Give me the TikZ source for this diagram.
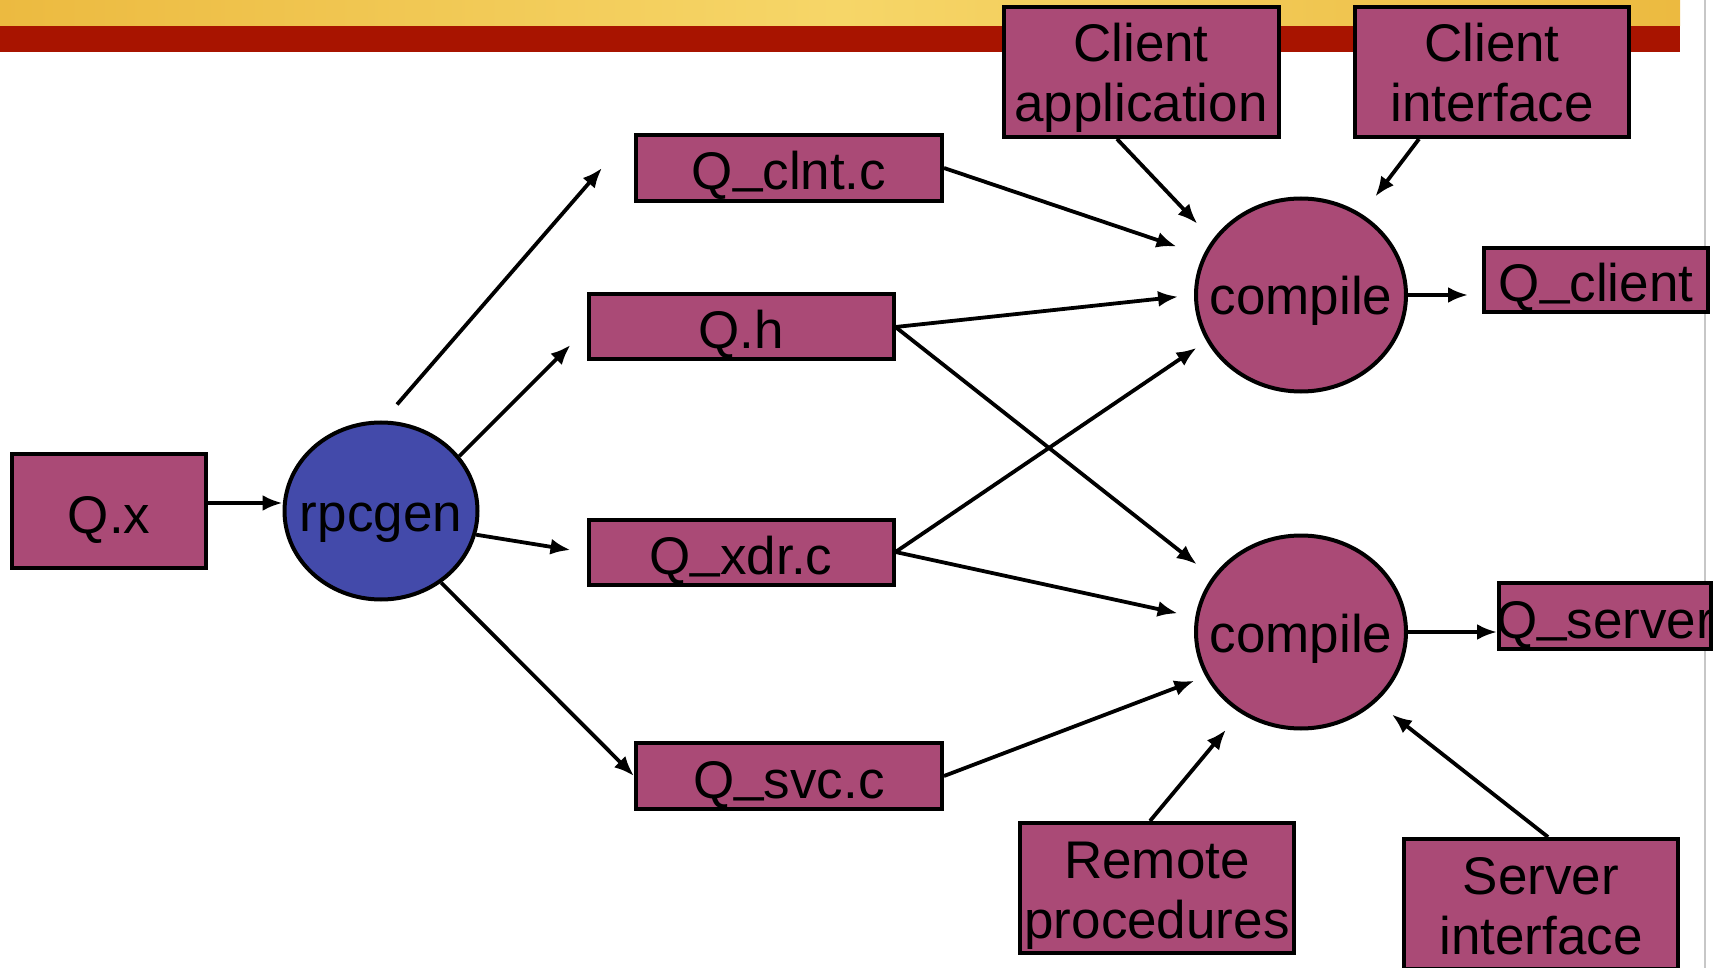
\documentclass[tikz,border=0pt]{standalone}
\usepackage{fontspec}
\setmainfont{Liberation Sans}
\usetikzlibrary{positioning,arrows.meta,shapes}
\definecolor{boxpink}{RGB}{170,74,118}
\definecolor{genblue}{RGB}{67,74,170}
\definecolor{barred}{RGB}{168,20,0}
\definecolor{bargold}{RGB}{236,186,64}
\definecolor{barlight}{RGB}{246,214,104}
\newcommand{\bigfont}{\fontsize{26.5}{30}\selectfont}
\newcommand{\usc}{\raisebox{4pt}{\_}}
\tikzset{
  file/.style={draw, line width=2pt, fill=boxpink, inner sep=0pt, align=center, font=\bigfont},
  oneline/.style={file, text height=22pt, text depth=0pt},
  twoline/.style={file, text height=50pt, text depth=0pt},
  blob/.style={ellipse, draw, line width=2pt, fill=boxpink, inner sep=0pt,
    label={[font=\bigfont, text height=20pt, text depth=0pt]center:#1}},
  arr/.style={-{Latex[length=10pt,width=8pt]}, line width=1.9pt}
}

\begin{document}
\begin{tikzpicture}[x=0.5pt,y=-0.5pt]
\useasboundingbox (0,0) rectangle (1725,968);
\shade[left color=bargold, right color=bargold, middle color=barlight] (0,0) rectangle (1680,26);
\fill[barred] (0,26) rectangle (1680,52);
\draw[black!22, line width=1pt] (1705,0) -- (1705,968);

\node[oneline, minimum width=97pt, minimum height=57pt] (qx) at (109,511) {Q.x};
\node[blob=rpcgen, fill=genblue, minimum width=96.5pt, minimum height=88.5pt] (rpcgen) at (381,511) {};

\node[oneline, minimum width=153pt, minimum height=33pt] (clnt) at (789,168) {Q\usc clnt.c};
\node[oneline, minimum width=152.5pt, minimum height=32.5pt] (qh) at (741,327) {Q.h};
\node[oneline, minimum width=152.5pt, minimum height=32.5pt] (xdr) at (741,552) {Q\usc xdr.c};
\node[oneline, minimum width=153pt, minimum height=33pt] (svc) at (789,776) {Q\usc svc.c};

\node[blob=compile, minimum width=105pt, minimum height=96.5pt] (cc) at (1301,295) {};
\node[blob=compile, minimum width=105pt, minimum height=96.5pt] (cs) at (1301,632) {};

\node[oneline, minimum width=112pt, minimum height=32pt] (qclient) at (1596,280) {Q\usc client};
\node[oneline, minimum width=106pt, minimum height=33pt] (qserver) at (1605,616) {\makebox[106pt]{Q\usc server}};

\node[twoline, minimum width=137.5pt, minimum height=65pt] (capp) at (1141,72) {Client\\application};
\node[twoline, minimum width=137pt, minimum height=65pt] (cintf) at (1492,72) {Client\\interface};
\node[twoline, minimum width=137pt, minimum height=65pt] (rproc) at (1157,888) {Remote\\procedures};
\node[twoline, minimum width=137pt, minimum height=65pt] (sintf) at (1541,904) {Server\\interface};

\draw[arr] ([yshift=4pt]qx.east) -- ([yshift=4pt]rpcgen.west);
\draw[arr] ([shift={(8pt,8pt)}]rpcgen.north) -- ([xshift=-16pt]clnt.west);
\draw[arr] (rpcgen.35) -- ([shift={(-8pt,-9pt)}]qh.west);
\draw[arr] (rpcgen.-14) -- ([shift={(-8pt,1pt)}]xdr.west);
\draw[arr] (rpcgen.-50) -- (svc.west);

\draw[arr, shorten >=14pt] (clnt.east) -- (cc.158);
\draw[arr, shorten >=8pt] (qh.east) -- (cc.west);
\draw[arr, shorten >=10pt] (qh.east) -- (cs.148);
\draw[arr, shorten >=6pt] (xdr.east) -- (cc.206);
\draw[arr, shorten >=9pt] (xdr.east) -- (cs.172);
\draw[arr, shorten >=6pt] (svc.east) -- (cs.205);

\draw[arr, shorten >=7pt] (cc.east) -- (cc.east -| qclient.west);
\draw[arr] (cs.east) -- (cs.east -| qserver.west);

\draw[arr, shorten >=11pt] ([xshift=-12pt]capp.south) -- (cc.148);
\draw[arr, shorten >=11pt] ([xshift=-36.5pt]cintf.south) -- (cc.53);
\draw[arr, shorten >=11pt] ([xshift=-3.5pt]rproc.north) -- (cs.233);
\draw[arr, shorten >=10pt] ([xshift=3.5pt]sintf.north) -- (cs.-43);
\end{tikzpicture}
\end{document}
